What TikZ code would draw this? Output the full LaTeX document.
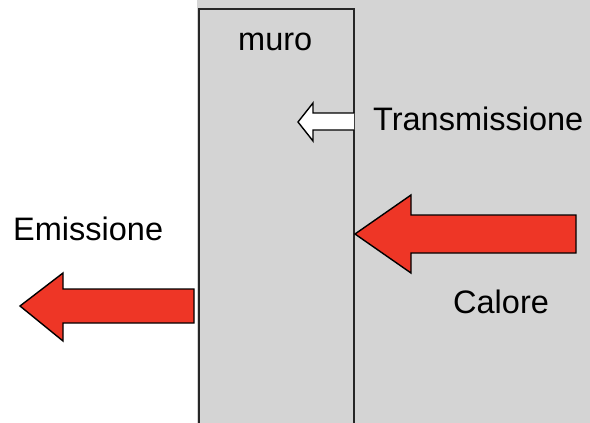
\documentclass[tikz,border=0pt]{standalone}
\usepackage{fontspec}
\setmainfont{Liberation Sans}
\definecolor{bgGray}{RGB}{212,212,212}
\definecolor{arrowRed}{RGB}{238,54,38}
\tikzset{
  lbl/.style={anchor=base west, inner sep=0pt, font=\fontsize{32.5}{39}\selectfont},
  wall/.style={draw=black!85, line width=2pt, fill=bgGray},
  bigarrow/.style={draw=black, line width=1.4pt, fill=arrowRed, line join=miter},
  smallarrow/.style={draw=black, line width=1.4pt, fill=white, line join=miter}
}
\begin{document}
\begin{tikzpicture}[x=1pt, y=-1pt]
\useasboundingbox (0,0) rectangle (590,423);
% background
\fill[bgGray] (197,0) rectangle (590,423);
% wall
\begin{scope}
\clip (0,0) rectangle (590,423);
\path[wall] (199,430) -- (199,9) -- (354,9) -- (354,430);
\end{scope}
% transmission arrow (white)
\draw[smallarrow] (354,113) -- (313,113) -- (313,103) -- (298,122) -- (313,141) -- (313,130) -- (354,130);
% heat arrow
\draw[bigarrow] (576,215) -- (411,215) -- (411,195) -- (355,234) -- (411,273) -- (411,253) -- (576,253) -- cycle;
% emission arrow
\draw[bigarrow] (194,289) -- (63,289) -- (63,273) -- (20,306) -- (63,341) -- (63,323) -- (194,323) -- cycle;
% labels
\node[lbl] (muro) at (238,50) {muro};
\node[lbl] (trans) at (373,130) {Transmissione};
\node[lbl] (emis) at (13,240) {Emissione};
\node[lbl] (cal) at (453,313) {Calore};
\end{tikzpicture}
\end{document}
